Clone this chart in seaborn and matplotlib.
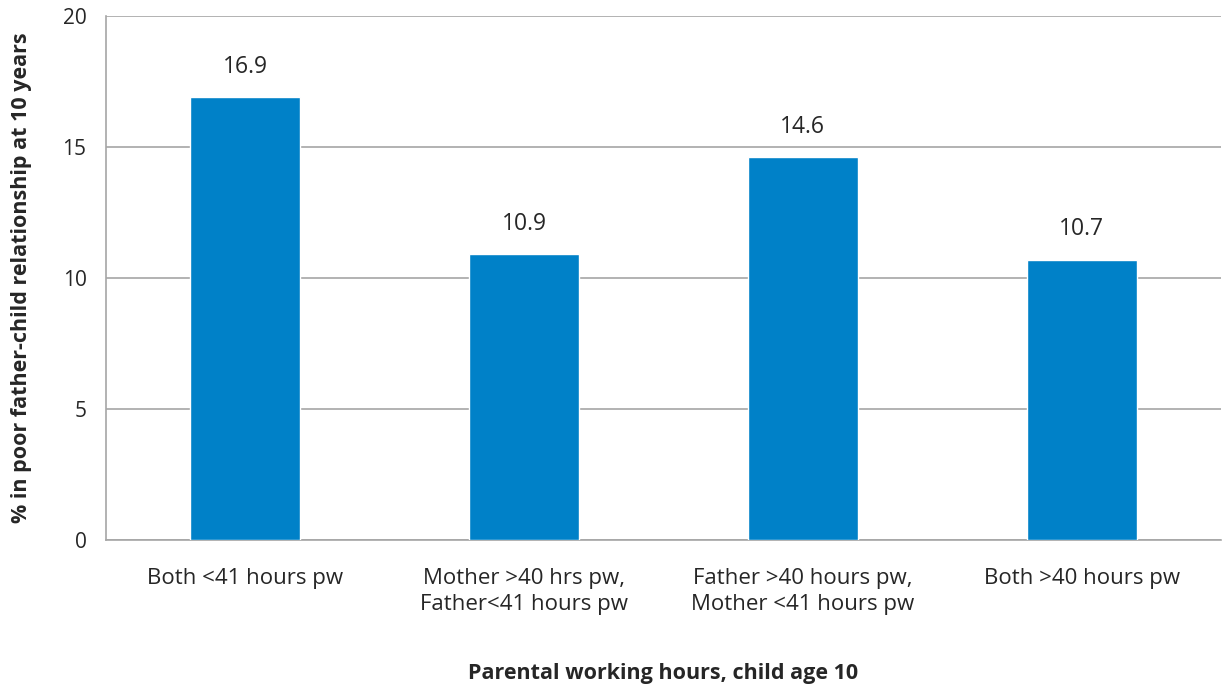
import matplotlib
matplotlib.use("Agg")
import matplotlib.pyplot as plt
import seaborn as sns
import pandas as pd

categories = ["Both <41 hours pw",
              "Mother >40 hrs pw,\nFather<41 hours pw",
              "Father >40 hours pw,\nMother <41 hours pw",
              "Both >40 hours pw"]
values = [16.9, 10.9, 14.6, 10.7]
yticks = [0, 5, 10, 15, 20]

sns.set_theme(style="white")
plt.rcParams['font.family'] = ['Open Sans', 'DejaVu Sans']

df = pd.DataFrame({"cat": categories, "val": values})

fig = plt.figure(figsize=(12.22, 6.88), dpi=100)
ax = fig.add_axes([106/1222, 148/688, 1115/1222, 524/688])

sns.barplot(data=df, x="cat", y="val", color="#0081C8", width=0.395,
            saturation=1, ax=ax, zorder=3)

ax.set_ylim(0, 20)
ax.set_xlim(-0.5, 3.5)
ax.set_yticks(yticks)
ax.set_yticklabels([str(t) for t in yticks], fontsize=15)
ax.yaxis.grid(True, color="#A6A6A6", linewidth=1.2, zorder=0)
ax.set_axisbelow(True)

for s in ["top", "right"]:
    ax.spines[s].set_visible(False)
for s in ["left", "bottom"]:
    ax.spines[s].set_color("#A6A6A6")
    ax.spines[s].set_linewidth(1.2)

ax.set_xticks([0, 1, 2, 3])
ax.set_xticklabels(categories, fontsize=16, linespacing=1.35)
ax.tick_params(axis="x", length=0, pad=20)
ax.set_xticks([0.5, 1.5, 2.5, 3.5], minor=True)
ax.tick_params(axis="x", which="minor", length=7, color="#A6A6A6", width=1.2)
ax.tick_params(axis="y", length=8, color="#A6A6A6", width=1.2, pad=6)

for i, v in enumerate(values):
    ax.text(i, v + 0.7, f"{v:.1f}", ha="center", va="bottom", fontsize=16.5)

ax.set_ylabel("% in poor father-child relationship at 10 years",
              fontsize=15.5, fontweight="bold", labelpad=22)
ax.set_xlabel("Parental working hours, child age 10",
              fontsize=15.5, fontweight="bold", labelpad=34)

fig.savefig("out.png", dpi=100)
